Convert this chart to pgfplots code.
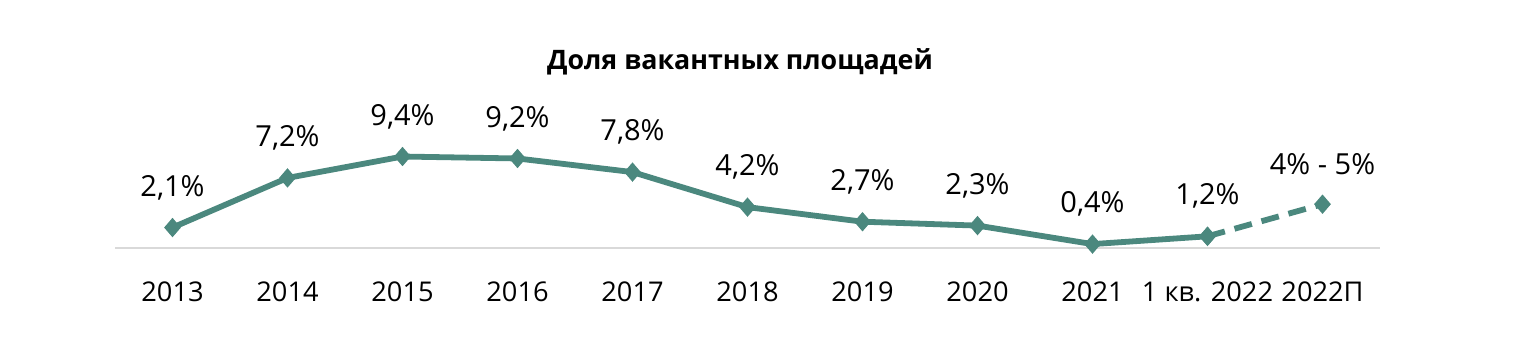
\documentclass[border=0pt]{standalone}
\usepackage{pgfplots}
\pgfplotsset{compat=1.18}
\usepackage{fontspec}
\setmainfont{Open Sans}
\definecolor{teal1}{RGB}{75,136,126}
\definecolor{grid1}{RGB}{217,217,217}
\begin{document}
\begin{tikzpicture}[x=1pt,y=1pt]
\path[use as bounding box] (0,0) rectangle (768,178);
\node[font=\fontsize{13.4}{15}\selectfont\bfseries] at (370,147) {Доля вакантных площадей};
\begin{axis}[
  at={(57.5pt,54pt)}, anchor=south west,
  scale only axis, width=632.5pt, height=48.65pt,
  xmin=-0.5, xmax=10.5, ymin=0, ymax=10,
  axis x line*=bottom, axis y line=none,
  x axis line style={grid1, line width=0.6pt, -},
  clip=false,
  xtick={0,...,10},
  xticklabels={2013,2014,2015,2016,2017,2018,2019,2020,2021,1 кв. 2022,2022П},
  xtick style={draw=none},
  xticklabel style={font=\fontsize{13.6}{15}\selectfont, anchor=center, yshift=-22pt},
  ytick=\empty,
  every node near coord/.append style={font=\fontsize{14.5}{16}\selectfont, anchor=center, yshift=20pt, text=black},
]
\addplot[teal1, line width=2.9pt, dash pattern=on 9pt off 5pt, mark=diamond*, mark size=4.4pt, mark options={solid, line width=0.6pt, xscale=1.15}] coordinates {(9,1.2) (10,4.5)};
\addplot[teal1, line width=2.9pt, mark=diamond*, mark size=4.4pt, mark options={solid, line width=0.6pt, xscale=1.15},
  nodes near coords={\pgfplotspointmeta}, point meta=explicit symbolic] table[meta=l] {
x y l
0 2.1 2,1\%
1 7.2 7,2\%
2 9.4 9,4\%
3 9.2 9,2\%
4 7.8 7,8\%
5 4.2 4,2\%
6 2.7 2,7\%
7 2.3 2,3\%
8 0.4 0,4\%
9 1.2 1,2\%
};
\addplot[draw=none, mark=none, nodes near coords={4\% - 5\%}] coordinates {(10,4.5)};
\end{axis}
\end{tikzpicture}
\end{document}
